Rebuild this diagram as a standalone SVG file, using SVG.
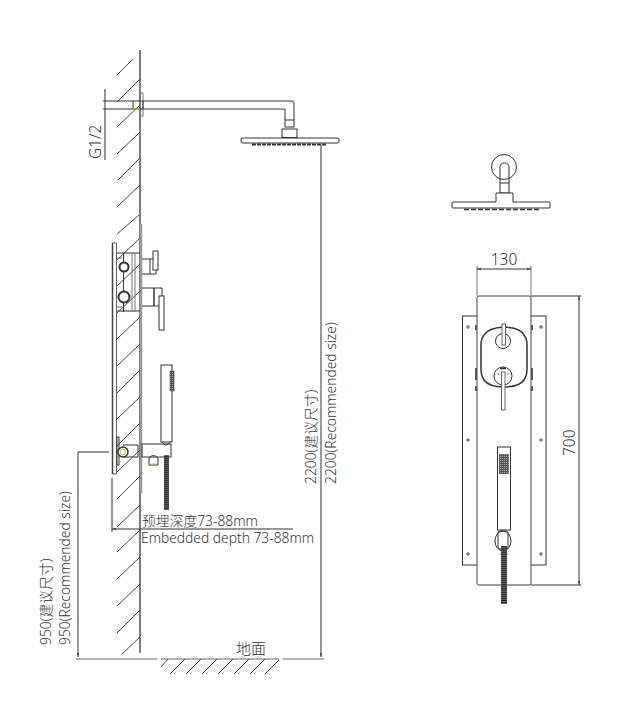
<svg xmlns="http://www.w3.org/2000/svg" width="624" height="711" viewBox="0 0 624 711">
<style>
.o{fill:none;stroke:#333;stroke-width:1}
.w{fill:#fff;stroke:#333;stroke-width:1}
.h{fill:none;stroke:#444;stroke-width:1}
.g{fill:none;stroke:#777;stroke-width:1}
.t{font-family:"Noto Sans","Noto Sans CJK SC",sans-serif;fill:#333;font-weight:300}
.y{stroke:#c9c230;stroke-width:1;fill:none}
</style>
<defs>
<pattern id="hose" width="5" height="2" patternUnits="userSpaceOnUse"><rect width="5" height="2" fill="#333"/><rect y="1" width="5" height=".6" fill="#777"/></pattern>
<pattern id="grip" width="2" height="2" patternUnits="userSpaceOnUse"><rect width="2" height="2" fill="#555"/><rect width="1" height="1" fill="#aaa"/></pattern>
</defs>
<g id="wall">
<path class="h" d="M117 75L133 59M117 102L140 79M117 127L140 105M117 154L140 132M118 180L140 158M117 207L140 185M117 234L139 215M117 260L140 238M117 286L140 264M117 313L140 291M117 339L140 317M117 366L140 344M117 393L140 370M117 419L140 397M117 446L140 423M117 472L140 450M117 499L140 476M117 527L140 505M117 552L140 530M117 579L140 557M117 606L140 584M117 633L140 610M122 654L140 637"/>
<path d="M140 50V653" stroke="#444" stroke-width="1.400" fill="none"/>
</g>
<g id="ground">
<path d="M76 659H157M161 659H279M283 659H324" stroke="#666" stroke-width="1.200" fill="none"/>
<path class="h" d="M161 667L168 659M170 674L185 659M186 674L201 659M202 674L217 659M218 674L233 659M234 674L249 659M250 674L265 659M265 674L279 660"/>
</g>
<g id="shower-arm">
<rect class="g" x="140" y="93" width="3" height="23" fill="#aaa"/>
<path class="o" d="M133 101H143V109H133ZM143 101H292Q294 101 294 103V120M143 109H285V120"/>
<path class="y" d="M133 109H140"/>
<rect class="w" x="285" y="120" width="9" height="7"/>
<rect class="w" x="282" y="129" width="15" height="8.500"/>
<path class="w" d="M243 138H337Q339 138 339 139V142Q339 143 337 143H243Q241 143 241 142V139Q241 138 243 138Z"/>
<path d="M252 144.500H326" stroke="#333" stroke-width="2" stroke-dasharray="4 1" fill="none"/>
</g>
<g id="mixer-side">
<path d="M112.500 243V474" stroke="#444" stroke-width="1.500" fill="none"/>
<path d="M116.500 243V474" stroke="#666" fill="none"/>
<path d="M112.500 243H116.500M112.500 474H116.500" stroke="#555" fill="none"/>
<path d="M141 224V493" stroke="#999" stroke-width="2.400" fill="none"/>
<path class="o" d="M117 253H140M117 311H140M123.500 253V312"/>
<path class="g" d="M132 253V312M135 253V312M117 258H122M117 307H122"/>
<circle cx="124" cy="267" r="4.500" fill="#fff" stroke="#333" stroke-width="2"/>
<circle cx="124" cy="297" r="5.500" fill="#fff" stroke="#333" stroke-width="2"/>
<path class="o" d="M142 259H156V274H142M150 259V274"/>
<rect class="w" x="153" y="251" width="5" height="19"/>
<path class="o" d="M142 288H162V306H142"/>
<path d="M154 288V306" stroke="#333" stroke-width="1.500"/>
<rect class="w" x="159" y="296" width="5" height="34"/>
<path class="o" d="M117 437V465H119V437Z"/>
<path class="o" d="M123 445H138V457H123"/>
<circle cx="123" cy="452" r="5" fill="#fff" stroke="#333" stroke-width="1.500"/>
<circle cx="123" cy="452" r="2.800" class="y"/>
<rect class="o" x="142" y="444" width="29" height="13"/>
<rect class="w" x="161" y="365" width="11" height="77"/>
<rect x="170" y="371" width="4" height="20" fill="url(#grip)" stroke="#333" stroke-width=".5"/>
<path class="o" d="M162 442Q166 448 170 442"/>
<path class="o" d="M149 465V458Q153 453 158 458V465Z"/>
<path class="y" d="M150 464H157"/>
<rect x="164" y="455" width="5" height="55" fill="url(#hose)"/>
</g>
<g id="shower-head-front">
<circle class="o" cx="504" cy="167" r="12.500"/>
<path class="o" d="M500 183V167Q500 163 504.500 163Q509 163 509 167V183"/>
<rect class="w" x="500" y="183" width="9" height="10"/>
<path class="w" d="M496 202V193H513V202H549Q550 202 550 203V207Q550 208 549 208H453Q452 208 452 207V203Q452 202 453 202Z"/>
<path d="M464 209.500H540" stroke="#333" stroke-width="1.600" stroke-dasharray="5 2" fill="none"/>
</g>
<g id="panel-front">
<rect x="462.500" y="316" width="83.500" height="249" fill="#fff" stroke="#333"/>
<rect x="477" y="296" width="54" height="289" rx="2" fill="#fff" stroke="#444"/>
<g fill="#fff" stroke="#444" stroke-width="1">
<circle cx="468" cy="327" r="1.200"/><circle cx="541" cy="327" r="1.200"/>
<circle cx="468" cy="440" r="1.200"/><circle cx="541" cy="440" r="1.200"/>
<circle cx="468" cy="554" r="1.200"/><circle cx="541" cy="554" r="1.200"/>
</g>
<path d="M476 325v5M532 325v5M476 386v5M532 386v5M476 368v12M532 368v12" stroke="#555" stroke-width="2"/>
<path d="M504 327Q488 328 484 335Q481 339 481 345V369Q481 376 484 380Q489 387 504 387Q519 387 524 380Q527 376 527 369V345Q527 339 524 335Q520 328 504 327Z" fill="#fff" stroke="#333" stroke-width="1.500"/>
<circle class="w" cx="503" cy="341" r="7.500"/>
<rect x="502" y="324" width="3.500" height="21" fill="#fff" stroke="#666"/>
<circle class="w" cx="503" cy="376" r="9"/>
<rect x="500" y="367.500" width="6" height="1.800" fill="#333"/>
<rect x="501.500" y="372" width="3.500" height="38" fill="#fff" stroke="#666"/>
<circle cx="498.500" cy="374" r=".7" fill="#333"/><circle cx="508" cy="374" r=".7" fill="#333"/>
<rect x="497.500" y="447" width="13" height="83" fill="#fff" stroke="#333"/>
<rect x="499" y="454" width="10" height="20" fill="url(#grip)"/>
<ellipse class="o" cx="503" cy="541" rx="8" ry="10"/>
<rect class="o" x="498" y="531" width="10" height="18" rx="2"/>
<path class="y" d="M499 554H501M507 554H509"/>
<rect x="501" y="546" width="6" height="58" fill="url(#hose)"/>
</g>
<g id="connectors">
<path class="o" stroke-width=".8" d="M105 89V160M103 101H133M103 109H133"/>
<path class="o" d="M321 145V657"/>
<path class="o" d="M78 452H109M78 452V657"/>
<path class="o" d="M112 478V532M112 529H293"/>
<path class="g" d="M477 266V296M531 266V296"/>
<path class="o" d="M477 269H531M531 296H581M531 585H581M579 296V585"/>
<path d="M477 269l4 -1v2zM531 269l-4 -1v2zM579 296l-1 4h2zM579 585l-1 -4h2zM321 657l-1 -4h2zM78 657l-1 -4h2zM112 529l4 -1v2z" fill="#333"/>
</g>
<g id="labels">
<text class="t" font-size="15.500" transform="translate(101 159) rotate(-90)">G1/2</text>
<text class="t" font-size="15.500" x="504" y="265" text-anchor="middle">130</text>
<text class="t" font-size="15.500" transform="translate(575 456) rotate(-90)">700</text>
<text class="t" font-size="13.800" transform="translate(316 484) rotate(-90)">2200(建议尺寸)</text>
<text class="t" font-size="13.800" transform="translate(336 484) rotate(-90)">2200(Recommended size)</text>
<text class="t" font-size="13.800" transform="translate(51 645) rotate(-90)">950(建议尺寸)</text>
<text class="t" font-size="13.800" transform="translate(70 645) rotate(-90)">950(Recommended size)</text>
<text class="t" font-size="13.800" x="142" y="526">预埋深度73-88mm</text>
<text class="t" font-size="13.800" x="141" y="543">Embedded depth 73-88mm</text>
<text class="t" font-size="15" x="236" y="654">地面</text>
</g>
</svg>
